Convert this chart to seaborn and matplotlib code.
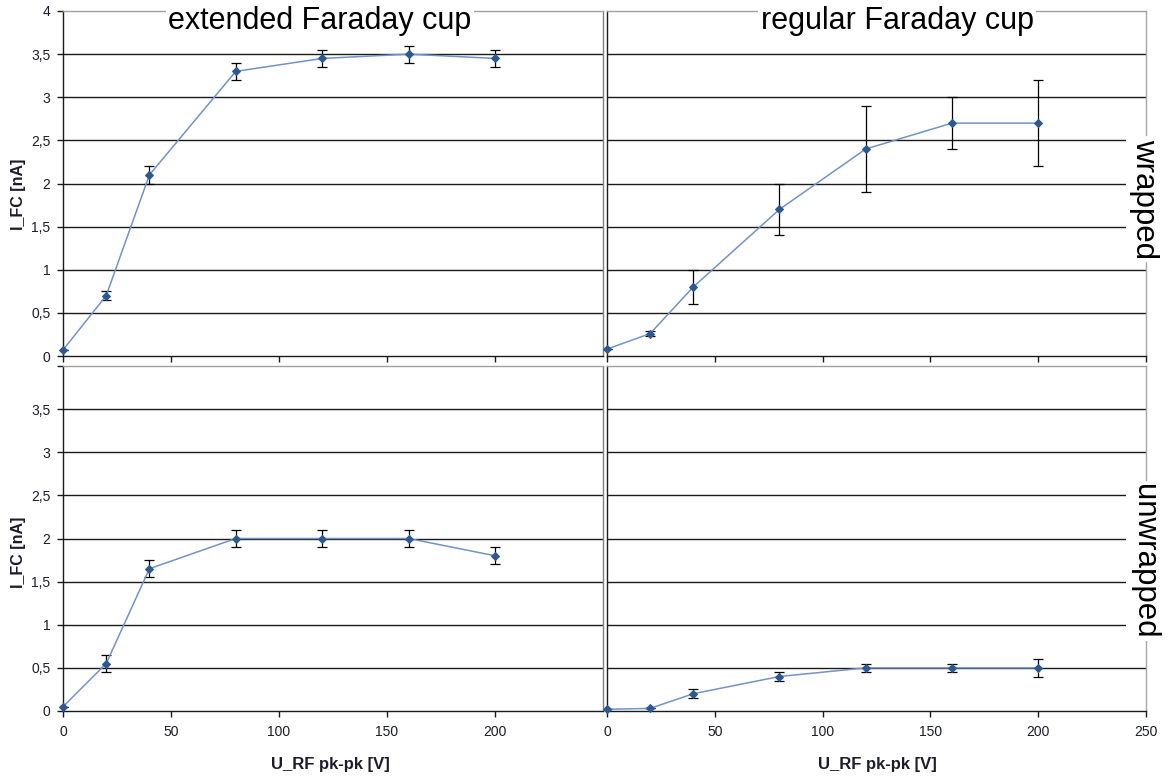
import matplotlib
matplotlib.use("Agg")
import matplotlib.pyplot as plt
import seaborn as sns
import pandas as pd
from matplotlib.ticker import FixedLocator, FuncFormatter

sns.set_style("white")
plt.rcParams['font.family'] = ['Liberation Sans', 'DejaVu Sans']

# ---------------- data ----------------
u_rf = [0, 20, 40, 80, 120, 160, 200]

ext_wrapped = [0.07, 0.70, 2.10, 3.30, 3.45, 3.50, 3.45]
ext_wrapped_err = [0.0, 0.05, 0.10, 0.10, 0.10, 0.10, 0.10]

reg_wrapped = [0.08, 0.26, 0.80, 1.70, 2.40, 2.70, 2.70]
reg_wrapped_err = [0.0, 0.03, 0.20, 0.30, 0.50, 0.30, 0.50]

ext_unwrapped = [0.05, 0.55, 1.65, 2.00, 2.00, 2.00, 1.80]
ext_unwrapped_err = [0.0, 0.10, 0.10, 0.10, 0.10, 0.10, 0.10]

reg_unwrapped = [0.02, 0.03, 0.20, 0.40, 0.50, 0.50, 0.50]
reg_unwrapped_err = [0.0, 0.0, 0.05, 0.05, 0.05, 0.05, 0.10]

col_titles = ["extended Faraday cup", "regular Faraday cup"]
row_titles = ["wrapped", "unwrapped"]
y_label = "I_FC [nA]"
x_label = "U_RF pk-pk [V]"

# ---------------- layout ----------------
W, H = 1171, 777
fig = plt.figure(figsize=(W / 100, H / 100), dpi=100)


def rect(x0, x1, ytop, ybot):
    return [x0 / W, 1 - ybot / H, (x1 - x0) / W, (ybot - ytop) / H]


line_col = "#7393c4"
mark_col = "#2c5a90"
txt_col = "#1c1c2c"

panels = [
    (rect(63, 603, 11, 356), ext_wrapped, ext_wrapped_err, "left", "top"),
    (rect(607, 1146, 11, 356), reg_wrapped, reg_wrapped_err, "right", "top"),
    (rect(63, 603, 366, 711), ext_unwrapped, ext_unwrapped_err, "left", "bottom"),
    (rect(607, 1146, 366, 711), reg_unwrapped, reg_unwrapped_err, "right", "bottom"),
]

yt = [0, 0.5, 1, 1.5, 2, 2.5, 3, 3.5, 4]


def fmt_y(v, pos, show_top):
    if v >= 4 and not show_top:
        return ""
    s = f"{v:g}"
    return s.replace(".", ",")


for r, vals, errs, side, row in panels:
    ax = fig.add_axes(r)
    ax.set_facecolor("white")
    df = pd.DataFrame({"u": u_rf, "i": vals})
    for g in yt[1:-1]:
        ax.axhline(g, color="#1a1a1a", lw=1.0, zorder=0.5)
    ax.errorbar(u_rf, vals, yerr=errs, fmt="none", ecolor="black",
                elinewidth=0.9, capsize=3.5, capthick=0.9, zorder=2)
    sns.lineplot(data=df, x="u", y="i", ax=ax, color=line_col, lw=1.1,
                 marker="D", markersize=4.3, markerfacecolor=mark_col,
                 markeredgecolor=mark_col, zorder=3, clip_on=False)
    ax.set_xlim(0, 250)
    ax.set_ylim(0, 4)
    ax.set_xlabel("")
    ax.set_ylabel("")
    ax.grid(False)

    for s in ax.spines.values():
        s.set_linewidth(1.0)
    ax.spines["left"].set_color("#1a1a1a")
    ax.spines["bottom"].set_color("#1a1a1a")
    ax.spines["top"].set_color("#a0a0a0")
    ax.spines["right"].set_color("#808080" if side == "left" else "#a8a8a8")

    if side == "left":
        ax.xaxis.set_major_locator(FixedLocator([0, 50, 100, 150, 200]))
    else:
        ax.xaxis.set_major_locator(FixedLocator([0, 50, 100, 150, 200, 250]))
    ax.yaxis.set_major_locator(FixedLocator(yt))

    ax.tick_params(axis="x", direction="out", length=4, width=1,
                   color="#1a1a1a", labelsize=10, labelcolor=txt_col,
                   bottom=True, labelbottom=(row == "bottom"), pad=6)
    if side == "left":
        show_top = (row == "top")
        ax.yaxis.set_major_formatter(
            FuncFormatter(lambda v, p, st=show_top: fmt_y(v, p, st)))
        ax.tick_params(axis="y", direction="out", length=4, width=1,
                       color="#1a1a1a", labelsize=10, labelcolor=txt_col,
                       left=True, labelleft=True, pad=5)
    else:
        ax.tick_params(axis="y", left=False, labelleft=False)

# ---------------- texts ----------------
def px(x, y):
    return x / W, 1 - y / H

box = dict(facecolor="white", edgecolor="none", pad=2)

fig.text(*px(320, 21), col_titles[0], fontsize=22, ha="center", va="center",
         color="black", bbox=box, zorder=10)
fig.text(*px(897, 21), col_titles[1], fontsize=22, ha="center", va="center",
         color="black", bbox=box, zorder=10)

fig.text(*px(1144, 199), row_titles[0], fontsize=22.5, ha="center", va="center",
         rotation=-90, color="black", bbox=box, zorder=10)
fig.text(*px(1144, 561), row_titles[1], fontsize=22.5, ha="center", va="center",
         rotation=-90, color="black", bbox=box, zorder=10)

fig.text(*px(19, 194), y_label, fontsize=11.5, fontweight="bold", ha="center",
         va="center", rotation=90, color=txt_col)
fig.text(*px(19, 552), y_label, fontsize=11.5, fontweight="bold", ha="center",
         va="center", rotation=90, color=txt_col)

fig.text(*px(330, 764), x_label, fontsize=12, fontweight="bold", ha="center",
         va="center", color=txt_col)
fig.text(*px(877, 764), x_label, fontsize=12, fontweight="bold", ha="center",
         va="center", color=txt_col)

fig.savefig("out.png", dpi=100, facecolor="white")
